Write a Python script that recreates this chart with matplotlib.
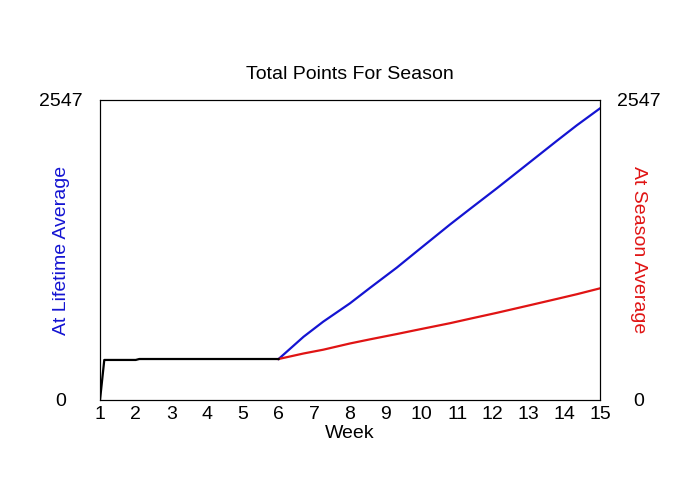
import matplotlib
matplotlib.use("Agg")
import matplotlib.pyplot as plt

plt.rcParams['font.family'] = ['Liberation Sans', 'DejaVu Sans']

# data
y_max = 2547
early_weeks = [1, 1.12, 2, 2.1, 6]
early_points = [0, 340, 340, 348, 348]

late_weeks = [6, 6.7, 7.25, 8, 8.56, 9.31, 9.87, 10.8, 11.36, 12.11, 13.04, 13.79, 14.35, 15]
lifetime_points = [348, 537, 665, 821, 952, 1124, 1262, 1490, 1622, 1797, 2020, 2200, 2332, 2476]
season_points = [348, 395, 427, 480, 515, 560, 595, 652, 690, 740, 805, 858, 898, 948]

week_ticks = list(range(1, 16))

fig = plt.figure(figsize=(7, 5), dpi=100)
ax = fig.add_axes([100 / 700, 0.2, 500 / 700, 0.6])

ax.plot(late_weeks, lifetime_points, color='#1414d2', lw=1.6)
ax.plot(late_weeks, season_points, color='#e01414', lw=1.6)
ax.plot(early_weeks, early_points, color='black', lw=1.6)

ax.set_xlim(1, 15)
ax.set_ylim(0, y_max)
ax.set_xticks(week_ticks)
ax.set_yticks([0, y_max])
ax.tick_params(axis='x', length=0, pad=4, labelsize=14)
ax.tick_params(axis='y', length=0, pad=28, labelsize=14)
for lbl in ax.get_yticklabels():
    lbl.set_horizontalalignment('center')

ax2 = ax.twinx()
ax2.set_ylim(0, y_max)
ax2.set_yticks([0, y_max])
ax2.tick_params(axis='y', length=0, pad=28, labelsize=14)
for lbl in ax2.get_yticklabels():
    lbl.set_horizontalalignment('center')

ax.set_xlabel('Week', fontsize=14, labelpad=2)
ax.set_title('Total Points For Season', fontsize=14, pad=15)

fig.text(61 / 700, 0.5, 'At Lifetime Average', color='#1414d2', fontsize=14,
         rotation=90, ha='center', va='center')
fig.text(639 / 700, 0.5, 'At Season Average', color='#e01414', fontsize=14,
         rotation=270, ha='center', va='center')

fig.savefig('out.png', dpi=100)
